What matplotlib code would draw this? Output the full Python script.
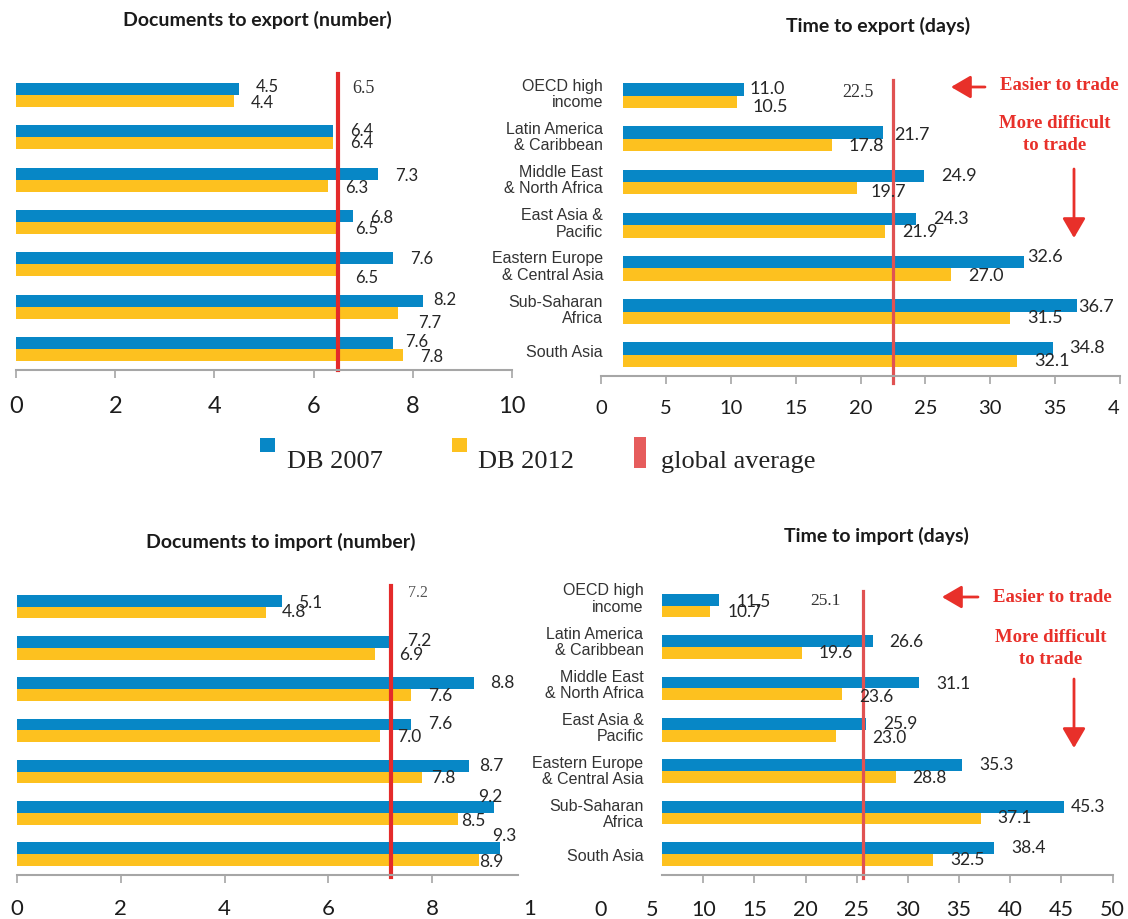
import numpy as np
import matplotlib
matplotlib.use('Agg')
import matplotlib.pyplot as plt
from matplotlib.patches import Rectangle, FancyArrowPatch

plt.rcParams['font.family'] = ['Lato', 'DejaVu Sans']

# ---- data ----
regions = ['OECD high\nincome', 'Latin America\n& Caribbean', 'Middle East\n& North Africa',
           'East Asia &\nPacific', 'Eastern Europe\n& Central Asia', 'Sub-Saharan\nAfrica',
           'South Asia']

docs_export_2007 = [4.5, 6.4, 7.3, 6.8, 7.6, 8.2, 7.6]
docs_export_2012 = [4.4, 6.4, 6.3, 6.5, 6.5, 7.7, 7.8]
time_export_2007 = [11.0, 21.7, 24.9, 24.3, 32.6, 36.7, 34.8]
time_export_2012 = [10.5, 17.8, 19.7, 21.9, 27.0, 31.5, 32.1]
docs_import_2007 = [5.1, 7.2, 8.8, 7.6, 8.7, 9.2, 9.3]
docs_import_2012 = [4.8, 6.9, 7.6, 7.0, 7.8, 8.5, 8.9]
time_import_2007 = [11.5, 26.6, 31.1, 25.9, 35.3, 45.3, 38.4]
time_import_2012 = [10.7, 19.6, 23.6, 23.0, 28.8, 37.1, 32.5]

avg_text = ['6.5', '22.5', '7.2', '25.1']       # printed global averages
avg_line = [6.5, 22.5, 7.2, 25.6]               # where the red line sits
bar_start = [0, 1.72, 0, 6.0]                   # right-hand bars don't start at 0

titles = ['Documents to export (number)', 'Time to export (days)',
          'Documents to import (number)', 'Time to import (days)']
legend_labels = ['DB 2007', 'DB 2012', 'global average']

# ---- style ----
W, H = 1128, 919
BLUE = '#0787c6'
YELLOW = '#fdc11f'
RED = '#e42a2a'
RED2 = '#e05252'
AXC = '#a6a6a6'
TXT = '#262626'


def fx(x):
    return x / W


def fy(y):
    return 1 - y / H


def rect_px(l, t, r, b):
    return [l / W, 1 - b / H, (r - l) / W, (b - t) / H]


fig = plt.figure(figsize=(W / 100, H / 100), dpi=100)
fig.patch.set_facecolor('white')


def panel(rect, xmax, step, v07, v12, base, vfs, dx07, dy07, dx12, dy12,
          tick_fs, tick_pad):
    ax = fig.add_axes(rect_px(*rect))
    ax.patch.set_visible(False)
    y = np.arange(len(regions))
    h = 0.285
    ax.barh(y - h / 2, np.array(v07) - base, left=base, height=h, color=BLUE)
    ax.barh(y + h / 2, np.array(v12) - base, left=base, height=h, color=YELLOW)
    ax.set_xlim(0, xmax)
    ax.set_ylim(6.5, -0.5)
    for s in ['top', 'right', 'left']:
        ax.spines[s].set_visible(False)
    ax.spines['bottom'].set_color(AXC)
    ax.spines['bottom'].set_linewidth(1.5)
    ax.set_xticks(np.arange(0, xmax + 0.01, step))
    ax.tick_params(axis='x', direction='out', length=6, width=1.2, color=AXC,
                   labelsize=tick_fs, pad=tick_pad, labelcolor='#1c1c1c')
    ax.set_yticks([])
    for i in range(len(regions)):
        ax.annotate(f'{v07[i]:.1f}', (v07[i], y[i] - h / 2), xytext=(dx07[i], -dy07[i]),
                    textcoords='offset pixels', ha='left', va='center',
                    fontsize=vfs, color=TXT)
        ax.annotate(f'{v12[i]:.1f}', (v12[i], y[i] + h / 2), xytext=(dx12[i], -dy12[i]),
                    textcoords='offset pixels', ha='left', va='center',
                    fontsize=vfs, color=TXT)
    return ax


def cut_label(ax, x, txt, fs, pad_pt):
    # tick label that is half hidden in the picture
    off = 6 * 100 / 72 + pad_pt * 100 / 72
    ax.annotate(txt, xy=(x, 0), xycoords=('data', 'axes fraction'),
                xytext=(0, -off), textcoords='offset pixels',
                ha='right', va='top', fontsize=fs, color='#1c1c1c')


def region_labels(ax, pos, inset_px):
    ax.set_yticks(pos)
    ax.set_yticklabels(regions, fontfamily=['Liberation Sans', 'DejaVu Sans'],
                       fontsize=11.5, color='#333333', linespacing=1.12)
    ax.tick_params(axis='y', length=0, pad=-inset_px * 72 / 100)


def avg_marker(ax, k, ymin, ymax, lw, col, dx, dy, fs, tcol):
    ax.axvline(avg_line[k], ymin=ymin, ymax=ymax, color=col, lw=lw, clip_on=False)
    ax.annotate(avg_text[k], xy=(avg_line[k], 0), xytext=(dx, -dy),
                textcoords='offset pixels', ha='center', va='center',
                fontsize=fs, color=tcol, family=['Liberation Serif', 'DejaVu Serif'])


# top-left: documents to export
ax1 = panel((16, 74, 512, 370), 10, 2, docs_export_2007, docs_export_2012, bar_start[0], 12,
            [17, 17, 17, 17, 17, 11, 12], [-2, 0, 2, 2, 1, -1, -1],
            [17, 17, 17, 17, 17, 20, 17], [2, 0, 2, 1, 8, 10, 2], 17, 13)
avg_marker(ax1, 0, 0, 1, 3, RED, 25, -7, 13, '#333333')

# top-right: time to export
ax2 = panel((601, 74, 1120, 376.4), 40, 5, time_export_2007, time_export_2012, bar_start[1], 13,
            [6, 12, 17, 17, 3, 1, 17], [0, 2, 0, 0, -5, 2, -1],
            [15, 17, 14, 17, 17, 17, 17], [5, 1, 4, 1, 1, 0, 0], 14.5, 10.8)
ax2.set_xticklabels([str(v) for v in range(0, 40, 5)] + [''])
cut_label(ax2, 40, '4', 14.5, 10.8)
region_labels(ax2, np.arange(7) - 0.08, 2)
avg_marker(ax2, 1, -0.022, 0.98, 2.3, RED2, -35, -3.5, 13, '#333333')

# bottom-left: documents to import
ax3 = panel((17, 586, 536, 874.6), 10, 2, docs_import_2007, docs_import_2012, bar_start[2], 12.5,
            [16, 16, 16, 17, 11, -16, -8], [2, -1, 0, 0, 0, -10, -12],
            [16, 24, 17, 17, 9, 3, 0], [0, 1, 1, 1, 1, 2, 2], 16, 11.3)
ax3.set_xticks([0, 2, 4, 6, 8])
ax3.spines['bottom'].set_bounds(0, 9.65)
cut_label(ax3, 10, '1', 16, 11.3)
avg_marker(ax3, 2, -0.008, 1.0, 3, RED, 27, -13.5, 11.5, '#555555')

# bottom-right: time to import
ax4 = panel((601, 585, 1112.5, 874.6), 50, 5, time_import_2007, time_import_2012, bar_start[3], 12.5,
            [18, 16, 17, 17, 17, 6, 17], [2, 1, 1, 0, 0, 0, 0],
            [17, 17, 17, 36, 17, 17, 17], [0, 0, 3, 2, 1, 0, 0], 15.5, 12)
ax4.spines['bottom'].set_bounds(6, 50)
for t in ax4.xaxis.get_major_ticks()[:2]:
    t.tick1line.set_visible(False)
region_labels(ax4, np.linspace(-0.21, 6.03, 7), 42.5)
avg_marker(ax4, 3, -0.012, 0.979, 2.3, RED2, -37, -4.5, 12.5, '#333333')

# titles
for (x, y), t in zip([(257, 20), (878, 26), (281, 542), (876, 536)], titles):
    fig.text(fx(x), fy(y), t, ha='center', va='center', fontsize=14,
             fontweight='bold', color='#1a1a1a')

# legend
for (l, t, r, b), c in zip([(260, 438, 275, 452), (452, 438, 467, 452), (634, 437, 646, 468)],
                           [BLUE, YELLOW, '#e65c5c']):
    fig.add_artist(Rectangle((fx(l), fy(b)), (r - l) / W, (b - t) / H,
                             transform=fig.transFigure, color=c, lw=0))
for x, t in zip([287, 478, 661], legend_labels):
    fig.text(fx(x), fy(468), t, ha='left', va='baseline', fontsize=19, color='#222222',
             family=['Liberation Serif', 'DejaVu Serif'])

# "easier / more difficult" notes
ARC = '#e8302a'
notes = [((985, 87), (951, 87), (1074, 169), (1074, 238), (1000, 86), (1055, 124), (1055, 146)),
         ((978, 597), (942, 597), (1074, 679), (1074, 748), (993, 597), (1051, 637), (1051, 659))]
for a0, a1, d0, d1, e, m1, m2 in notes:
    for p, q in [(a0, a1), (d0, d1)]:
        fig.add_artist(FancyArrowPatch((fx(p[0]), fy(p[1])), (fx(q[0]), fy(q[1])),
                                       transform=fig.transFigure,
                                       arrowstyle='-|>,head_length=0.6,head_width=0.35',
                                       mutation_scale=20, color=ARC, lw=2,
                                       shrinkA=0, shrinkB=0))
    serif_b = dict(color=ARC, fontsize=13.5, fontweight='bold',
                   family=['Liberation Serif', 'DejaVu Serif'], va='center')
    fig.text(fx(e[0]), fy(e[1]), 'Easier to trade', ha='left', **serif_b)
    fig.text(fx(m1[0]), fy(m1[1]), 'More difficult', ha='center', **serif_b)
    fig.text(fx(m2[0]), fy(m2[1]), 'to trade', ha='center', **serif_b)

fig.savefig('out.png', dpi=100)
